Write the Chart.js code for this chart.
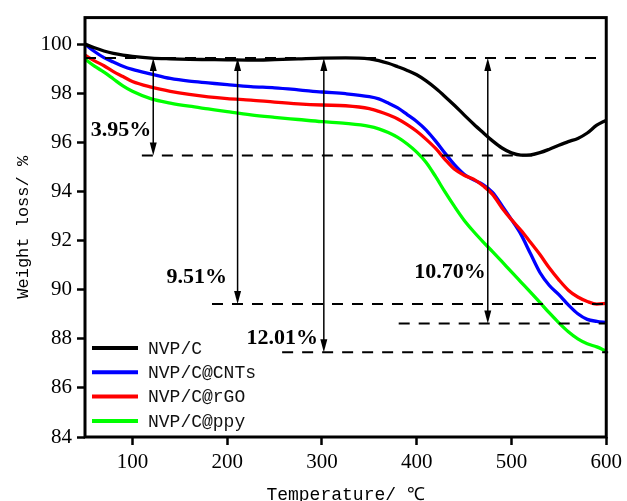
<!DOCTYPE html>
<html lang="en">
<head>
  <meta charset="UTF-8" />
  <title>TGA — NVP/C composites</title>
  <script src="https://cdn.jsdelivr.net/npm/chart.js"></script>
  <style>
    body { margin: 0; background: #fff; }
    #wrap { width: 627px; height: 501px; position: relative; }
  </style>
</head>
<body>
  <div id="wrap"><canvas id="tga"></canvas></div>

  <script>
    const temps = [50, 60, 70, 80, 90, 100, 120, 140, 160, 180, 200, 225, 250, 275, 300, 325, 350, 360, 370, 380, 390,
      400, 410, 420, 430, 440, 450, 460, 470, 480, 490, 500, 510, 520, 530, 540, 550, 560, 570, 580, 590, 600];

    const nvpC = [100.0, 99.85, 99.72, 99.62, 99.55, 99.5, 99.43, 99.4, 99.38, 99.37, 99.36, 99.35, 99.37, 99.4, 99.43, 99.44, 99.4, 99.33, 99.22, 99.08, 98.93,
      98.75, 98.5, 98.2, 97.86, 97.5, 97.12, 96.75, 96.4, 96.06, 95.77, 95.57, 95.48, 95.49, 95.58, 95.72, 95.88, 96.03, 96.16, 96.38, 96.7, 96.9];
    const nvpCnt = [100.0, 99.7, 99.45, 99.27, 99.1, 98.97, 98.78, 98.6, 98.49, 98.42, 98.35, 98.27, 98.22, 98.14, 98.05, 97.98, 97.86, 97.77, 97.6, 97.4, 97.13,
      96.85, 96.5, 96.05, 95.55, 95.08, 94.7, 94.47, 94.28, 93.96, 93.42, 92.85, 92.25, 91.47, 90.7, 90.17, 89.8, 89.38, 89.02, 88.79, 88.71, 88.66];
    const nvpRgo = [99.55, 99.32, 99.12, 98.88, 98.68, 98.48, 98.25, 98.08, 97.95, 97.85, 97.78, 97.72, 97.64, 97.57, 97.52, 97.49, 97.37, 97.26, 97.12, 96.95, 96.72,
      96.45, 96.12, 95.75, 95.3, 94.9, 94.66, 94.5, 94.23, 93.88, 93.33, 92.85, 92.42, 91.93, 91.43, 90.88, 90.4, 89.98, 89.7, 89.52, 89.41, 89.44];
    const nvpPpy = [99.39, 99.1, 98.86, 98.58, 98.3, 98.08, 97.77, 97.6, 97.47, 97.36, 97.25, 97.12, 97.02, 96.93, 96.84, 96.77, 96.65, 96.55, 96.4, 96.2, 95.93,
      95.6, 95.18, 94.6, 93.97, 93.38, 92.83, 92.37, 91.95, 91.55, 91.14, 90.72, 90.31, 89.9, 89.48, 89.05, 88.65, 88.29, 88.0, 87.8, 87.67, 87.5];

    const seriesNames = ['NVP/C', 'NVP/C@CNTs', 'NVP/C@rGO', 'NVP/C@ppy'];
    const xTicks = [100, 200, 300, 400, 500, 600];
    const yTicks = [84, 86, 88, 90, 92, 94, 96, 98, 100];

    // dashed reference levels (weight %) and their temperature span
    const dashLevels = [99.43, 95.46, 89.42, 88.62, 87.45];
    const dashFrom = [50, 110, 184, 381, 258];
    const dashTo = [600, 522, 600, 600, 602];

    // double arrows marking the weight loss of each sample
    const arrowTemps = [122, 211, 302, 475];
    const arrowTop = [99.43, 99.43, 99.43, 99.43];
    const arrowBottom = [95.46, 89.42, 87.45, 88.62];
    const lossLabels = ['3.95%', '9.51%', '12.01%', '10.70%'];
    const lossLabelT = [88, 168, 258, 435];
    const lossLabelW = [96.5, 90.5, 88.0, 90.7];

    const colors = ['#000000', '#0000ff', '#ff0000', '#00ff00'];
    const drawOrder = [0, 2, 1, 3];

    const notes = {
      id: 'notes',
      afterDatasetsDraw(chart) {
        const { ctx, chartArea: a, scales: { x, y } } = chart;
        ctx.save();
        ctx.strokeStyle = '#000';
        ctx.fillStyle = '#000';

        ctx.lineWidth = 2;
        ctx.setLineDash([11, 9]);
        dashLevels.forEach((w, i) => {
          const py = y.getPixelForValue(w);
          ctx.beginPath();
          ctx.moveTo(x.getPixelForValue(dashFrom[i]), py);
          ctx.lineTo(x.getPixelForValue(dashTo[i]), py);
          ctx.stroke();
        });
        ctx.setLineDash([]);

        const head = (px, py, dir) => {
          ctx.beginPath();
          ctx.moveTo(px, py);
          ctx.lineTo(px - 3.5, py + dir * 13);
          ctx.lineTo(px + 3.5, py + dir * 13);
          ctx.closePath();
          ctx.fill();
        };
        ctx.lineWidth = 1.5;
        arrowTemps.forEach((t, i) => {
          const px = x.getPixelForValue(t);
          const y0 = y.getPixelForValue(arrowTop[i]);
          const y1 = y.getPixelForValue(arrowBottom[i]);
          ctx.beginPath();
          ctx.moveTo(px, y0 + 10);
          ctx.lineTo(px, y1 - 10);
          ctx.stroke();
          head(px, y0, 1);
          head(px, y1, -1);
        });

        ctx.font = 'bold 22px "Liberation Serif"';
        ctx.textAlign = 'center';
        ctx.textBaseline = 'middle';
        lossLabels.forEach((s, i) => {
          ctx.fillText(s, x.getPixelForValue(lossLabelT[i]), y.getPixelForValue(lossLabelW[i]));
        });

        // legend, bottom-left inside the frame
        ctx.font = '18px "Liberation Mono"';
        ctx.textAlign = 'left';
        ctx.fillStyle = '#111';
        ctx.lineWidth = 4;
        chart.data.datasets.forEach((ds, i) => {
          const ly = a.bottom - 89 + i * 24.3;
          ctx.strokeStyle = ds.borderColor;
          ctx.beginPath();
          ctx.moveTo(a.left + 7, ly);
          ctx.lineTo(a.left + 53, ly);
          ctx.stroke();
          ctx.fillText(ds.label, a.left + 63, ly + 1);
        });

        ctx.strokeStyle = '#000';
        ctx.lineWidth = 3;
        ctx.strokeRect(a.left, a.top, a.right - a.left, a.bottom - a.top);
        ctx.restore();
      }
    };

    new Chart(document.getElementById('tga'), {
      type: 'line',
      data: {
        datasets: [nvpC, nvpCnt, nvpRgo, nvpPpy].map((s, i) => ({
          label: seriesNames[i],
          data: s.map((w, j) => ({ x: temps[j], y: w })),
          borderColor: colors[i],
          borderWidth: 3.3,
          pointRadius: 0,
          cubicInterpolationMode: 'monotone',
          order: drawOrder[i]
        }))
      },
      options: {
        responsive: true,
        maintainAspectRatio: false,
        animation: false,
        layout: { padding: { top: 15, right: 19, left: 0, bottom: 0 } },
        plugins: { legend: { display: false }, tooltip: { enabled: false } },
        scales: {
          x: {
            type: 'linear', min: 50, max: 600,
            afterFit: s => { s.height = 64; },
            afterBuildTicks: s => { s.ticks = xTicks.map(v => ({ value: v })); },
            border: { display: false },
            grid: { drawOnChartArea: false, tickLength: 8, tickWidth: 2.5, tickColor: '#000' },
            ticks: { color: '#000', padding: 5, maxRotation: 0, font: { family: 'Liberation Serif', size: 21 } },
            title: {
              display: true, text: 'Temperature/ ℃', color: '#000',
              font: { family: 'Liberation Mono', size: 18, lineHeight: 1 },
              padding: { top: 0, bottom: -3 }
            }
          },
          y: {
            min: 84, max: 101.08,
            afterFit: s => { s.width = 85; },
            afterBuildTicks: s => { s.ticks = yTicks.map(v => ({ value: v })); },
            border: { display: false },
            grid: { drawOnChartArea: false, tickLength: 8, tickWidth: 2.5, tickColor: '#000' },
            ticks: { color: '#000', padding: 5, font: { family: 'Liberation Serif', size: 21 } },
            title: {
              display: true, text: 'Weight loss/ %', color: '#000',
              font: { family: 'Liberation Mono', size: 17, lineHeight: 1.2 },
              padding: { top: 13, bottom: 0 }
            }
          }
        }
      },
      plugins: [notes]
    });
  </script>
</body>
</html>
